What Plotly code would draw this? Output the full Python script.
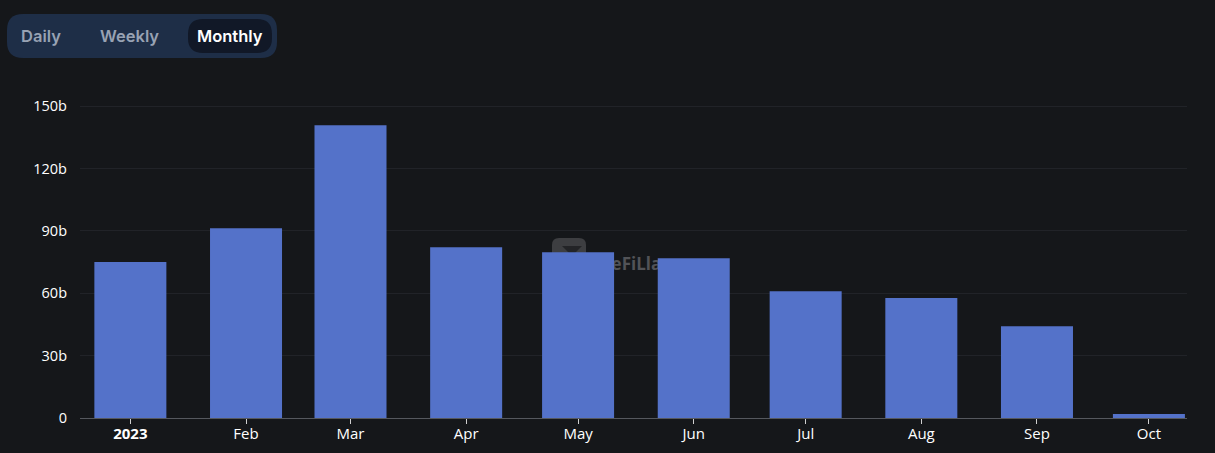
import plotly.graph_objects as go

# --- DATA ---
months = ["2023-01-01", "2023-02-01", "2023-03-01", "2023-04-01", "2023-05-01",
          "2023-06-01", "2023-07-01", "2023-08-01", "2023-09-01", "2023-10-01"]
volumes = [75.0, 91.3, 140.9, 82.2, 79.8, 76.9, 61.0, 57.7, 44.2, 1.9]
month_labels = ["<b>2023</b>", "Feb", "Mar", "Apr", "May", "Jun", "Jul", "Aug", "Sep", "Oct"]
y_ticks = [0, 30, 60, 90, 120, 150]
y_labels = ["0", "30b", "60b", "90b", "120b", "150b"]
buttons = ["Daily", "Weekly", "Monthly"]

# --- CONFIG ---
W, H = 1215, 453
L, R, T, B = 80, 28, 105, 35
BG = "#15171a"
FONT = "Open Sans"
BTN_FONT = "Inter"
DAY_MS = 86400000


def px(x):
    return (x - L) / (W - L - R)


def py(y):
    return (H - B - y) / (H - T - B)


def pill(x0, y0, x1, y1, r, color):
    # rounded rectangle in page pixels
    path = (f"M {px(x0 + r)} {py(y0)} L {px(x1 - r)} {py(y0)} Q {px(x1)} {py(y0)} {px(x1)} {py(y0 + r)} "
            f"L {px(x1)} {py(y1 - r)} Q {px(x1)} {py(y1)} {px(x1 - r)} {py(y1)} "
            f"L {px(x0 + r)} {py(y1)} Q {px(x0)} {py(y1)} {px(x0)} {py(y1 - r)} "
            f"L {px(x0)} {py(y0 + r)} Q {px(x0)} {py(y0)} {px(x0 + r)} {py(y0)} Z")
    return dict(type="path", xref="paper", yref="paper", path=path,
                fillcolor=color, line_width=0, layer="below")


fig = go.Figure(go.Bar(
    x=months, y=volumes,
    width=19.3 * DAY_MS,
    marker=dict(color="#5472c9", line_width=0),
    hoverinfo="x+y",
))

shapes = [
    pill(7, 14, 277, 58, 16, "#1e2e47"),
    pill(188, 19, 272, 53, 15, "#111827"),
    # watermark logo, sits behind the bars
    pill(552, 238, 586, 262, 7, "#3d3e41"),
    dict(type="path", xref="paper", yref="paper", line_width=0, fillcolor="#232427", layer="below",
         path=f"M {px(562)} {py(246)} L {px(582)} {py(246)} L {px(572)} {py(256)} Z"),
    dict(type="rect", xref="paper", yref="paper",
         x0=px(596), x1=px(720), y0=py(273), y1=py(255), line_width=0,
         fillcolor="rgba(0,0,0,0)", layer="below",
         label=dict(text="<b>DeFiLlama</b>", font=dict(family=FONT, size=17, color="#525357"),
                    textposition="middle left", padding=0)),
]

annotations = []
for text, cx, col in zip(buttons, [41, 129, 230], ["#98a2b3", "#98a2b3", "#ffffff"]):
    annotations.append(dict(
        text=text,
        xref="paper", yref="paper", x=px(cx), y=py(36),
        xanchor="center", yanchor="middle", showarrow=False,
        font=dict(family=BTN_FONT, size=16.5, color=col, weight=600),
    ))

fig.update_layout(
    width=W, height=H,
    margin=dict(l=L, r=R, t=T, b=B, pad=0),
    paper_bgcolor=BG, plot_bgcolor=BG,
    showlegend=False,
    font=dict(family=FONT, size=14, color="#ffffff"),
    shapes=shapes,
    annotations=annotations,
    xaxis=dict(
        type="date", automargin=False,
        range=["2022-12-18 12:00", "2023-10-11 05:00"],
        tickmode="array", tickvals=months, ticktext=month_labels,
        ticks="outside", ticklen=5, tickwidth=1, tickcolor="#d0d0d0",
        ticklabelstandoff=-3,
        showgrid=False, zeroline=False,
        showline=True, linecolor="#55585e", linewidth=1,
        tickfont=dict(size=15, color="#ffffff"),
    ),
    yaxis=dict(
        range=[0, 150.6], automargin=False,
        tickmode="array", tickvals=y_ticks, ticktext=y_labels,
        gridcolor="#212328", gridwidth=1, zeroline=False,
        ticks="", ticklen=0, ticklabelstandoff=12,
        tickfont=dict(size=14.5, color="#ffffff"),
    ),
)

fig.write_html(
    "out.html",
    config=dict(displayModeBar=False),
    post_script="document.body.style.margin='0';document.body.style.background='%s';" % BG,
)
